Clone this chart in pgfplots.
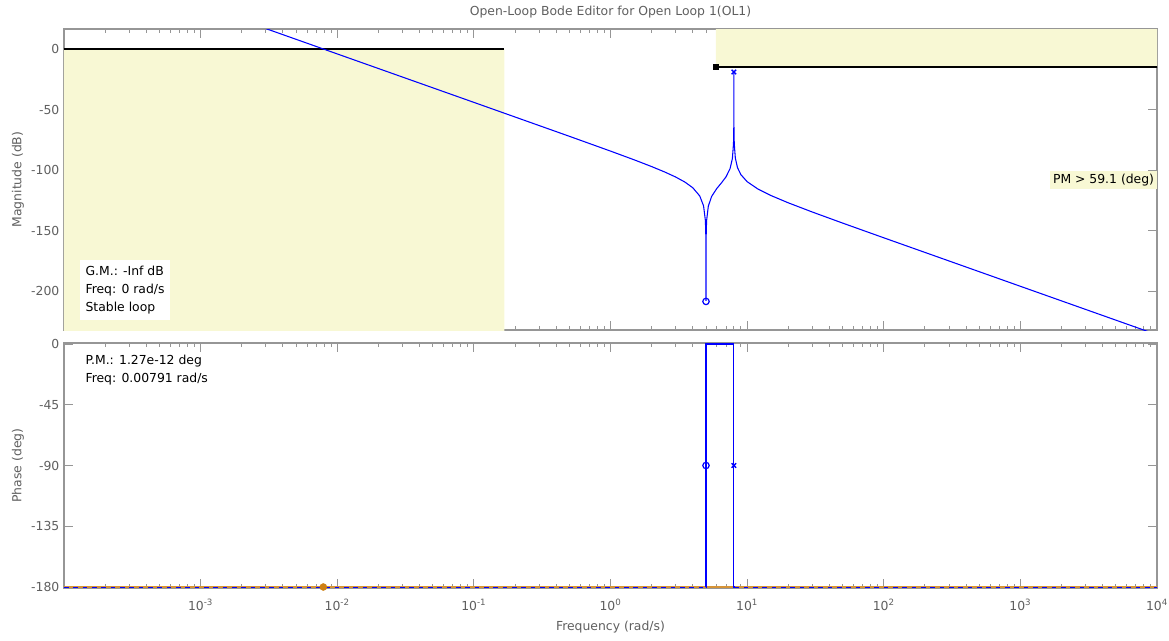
\documentclass[border=0pt]{standalone}
\usepackage{fontspec}
\setmainfont{DejaVu Sans}
\usepackage{pgfplots}
\pgfplotsset{compat=1.18}

\definecolor{cyel}{RGB}{248,248,212}
\definecolor{cgray}{RGB}{150,150,150}
\definecolor{ctext}{RGB}{95,95,95}
\definecolor{corange}{RGB}{206,128,20}
\definecolor{cblue}{RGB}{0,0,255}

\newcommand{\fs}{\fontsize{9.3}{10.5}\selectfont}
\newcommand{\fa}{\fontsize{9.3}{13.8}\selectfont}

\begin{document}
\begin{tikzpicture}
\path[use as bounding box] (0,0) rectangle (876.75pt,-480pt);

% ---------------- Magnitude ----------------
\begin{axis}[
  scale only axis, width=819.75pt, xmode=log, xmin=1e-4, xmax=1e4,
  axis line style={cgray, line width=0.8pt},
  every tick/.style={cgray, line width=0.6pt},
  tick align=inside, major tick length=7pt, minor tick length=3pt,
  xtick={0.001,0.01,0.1,1,10,100,1000,10000},
  minor xtick={0.0002,0.0003,0.0004,0.0005,0.0006,0.0007,0.0008,0.0009,
   0.002,0.003,0.004,0.005,0.006,0.007,0.008,0.009,
   0.02,0.03,0.04,0.05,0.06,0.07,0.08,0.09,
   0.2,0.3,0.4,0.5,0.6,0.7,0.8,0.9,
   2,3,4,5,6,7,8,9,
   20,30,40,50,60,70,80,90,
   200,300,400,500,600,700,800,900,
   2000,3000,4000,5000,6000,7000,8000,9000},
  tick label style={font=\fs, text=ctext},
  label style={font=\fs, text=ctext},
  ylabel style={at={(rel axis cs:-0.042,0.5)}, anchor=center},
  at={(48pt,-21.75pt)}, anchor=north west, height=225.75pt,
  ymin=-232, ymax=16.5,
  ytick={-200,-150,-100,-50,0}, yticklabels={-200,-150,-100,-50,0},
  xticklabels=\empty,
  ylabel={Magnitude (dB)},
  title={Open-Loop Bode Editor for Open Loop 1(OL1)},
  title style={at={(rel axis cs:0.5,1)}, anchor=center, yshift=6.75pt, font=\fs, text=ctext},
]
\addplot[draw=none, fill=cyel] coordinates {(0.0001,0) (0.167,0) (0.167,-300) (0.0001,-300)} \closedcycle;
\addplot[draw=none, fill=cyel] coordinates {(5.91,-14.8) (20000,-14.8) (20000,50) (5.91,50)} \closedcycle;
\addplot[black, line width=1.6pt] coordinates {(0.0001,0) (0.167,0)};
\addplot[black, line width=1.6pt] coordinates {(5.91,-14.8) (20000,-14.8)};
\addplot[only marks, black, mark=square*, mark size=2pt] coordinates {(5.91,-14.8)};

\addplot[cblue, line width=0.8pt] coordinates {
(0.002,23.89) (0.01,-4.07) (0.1,-44.07) (0.5,-72.08) (1,-84.29) (1.5,-91.62)
(2,-97.07) (2.5,-101.6) (3,-105.71) (3.5,-109.83) (4,-114.53) (4.5,-121.32)
(4.8,-129.55) (4.95,-141.69) (4.99,-155.72) (4.999,-175.7) (5,-208)
(5.001,-175.7) (5.01,-155.8) (5.05,-141.73) (5.2,-129.71) (5.5,-121.68)
(6,-115.15) (6.5,-110.43) (7,-105.62) (7.5,-98.79) (7.8,-90.49) (7.95,-78.31)
(7.99,-64.29) (7.999,-44.3) (8,-19) (8.001,-44.3) (8.01,-64.28) (8.05,-78.21)
(8.2,-90.14) (8.5,-97.92) (9,-103.72) (10,-109.53) (12,-115.63) (15,-121.06)
(20,-126.99) (30,-134.59) (50,-143.73) (100,-155.87) (1000,-195.91) (10000,-235.91)
};
\addplot[only marks, cblue, mark=o, mark size=2.4pt, line width=0.9pt] coordinates {(5,-208.4)};
\addplot[only marks, cblue, mark=x, mark size=2.4pt, line width=1pt] coordinates {(8,-19)};

\node[fill=white, anchor=south west, align=left, inner sep=4pt, font=\fa]
      at (rel axis cs:0.0146,0.033)
      {G.M.: -Inf dB\\Freq: 0 rad/s\\Stable loop};
\node[fill=cyel, anchor=east, inner sep=2pt, font=\fs] at (rel axis cs:1,0.498)
      {PM > 59.1 (deg)};
\end{axis}

% ---------------- Phase ----------------
\begin{axis}[
  scale only axis, width=819.75pt, xmode=log, xmin=1e-4, xmax=1e4,
  axis line style={cgray, line width=0.8pt},
  every tick/.style={cgray, line width=0.6pt},
  tick align=inside, major tick length=7pt, minor tick length=3pt,
  xtick={0.001,0.01,0.1,1,10,100,1000,10000},
  minor xtick={0.0002,0.0003,0.0004,0.0005,0.0006,0.0007,0.0008,0.0009,
   0.002,0.003,0.004,0.005,0.006,0.007,0.008,0.009,
   0.02,0.03,0.04,0.05,0.06,0.07,0.08,0.09,
   0.2,0.3,0.4,0.5,0.6,0.7,0.8,0.9,
   2,3,4,5,6,7,8,9,
   20,30,40,50,60,70,80,90,
   200,300,400,500,600,700,800,900,
   2000,3000,4000,5000,6000,7000,8000,9000},
  tick label style={font=\fs, text=ctext},
  xticklabel style={yshift=-4.5pt},
  label style={font=\fs, text=ctext},
  ylabel style={at={(rel axis cs:-0.042,0.5)}, anchor=center},
  at={(48pt,-257.25pt)}, anchor=north west, height=183.75pt,
  ymin=-180.75, ymax=0.75,
  ytick={-180,-135,-90,-45,0}, yticklabels={-180,-135,-90,-45,0},
  xticklabels={10\textsuperscript{-3},10\textsuperscript{-2},10\textsuperscript{-1},10\textsuperscript{0},10\textsuperscript{1},10\textsuperscript{2},10\textsuperscript{3},10\textsuperscript{4}},
  ylabel={Phase (deg)},
  xlabel={Frequency (rad/s)},
  xlabel style={at={(rel axis cs:0.5,-0.159)}, anchor=center},
]
\addplot[corange!85, line width=0.9pt] coordinates {(0.0001,-180) (20000,-180)};
\addplot[cblue, line width=0.9pt] coordinates {(4.97,-180) (5,-180) (5,0) (8,0) (8,-180) (8.05,-180)};
\addplot[cblue, line width=0.75pt, dash pattern=on 3.5pt off 3.5pt] coordinates {(0.0001,-180) (4.97,-180)};
\addplot[cblue, line width=0.75pt, dash pattern=on 3.5pt off 3.5pt] coordinates {(8.05,-180) (20000,-180)};
\addplot[only marks, corange, mark=*, mark size=2.6pt] coordinates {(0.00791,-180)};
\addplot[only marks, cblue, mark=o, mark size=2.4pt, line width=0.9pt] coordinates {(5,-90)};
\addplot[only marks, cblue, mark=x, mark size=2.4pt, line width=1pt] coordinates {(8,-90)};

\node[anchor=north west, align=left, inner sep=4pt, font=\fa]
      at (rel axis cs:0.0146,0.975)
      {P.M.: 1.27e-12 deg\\Freq: 0.00791 rad/s};
\end{axis}
\end{tikzpicture}
\end{document}
